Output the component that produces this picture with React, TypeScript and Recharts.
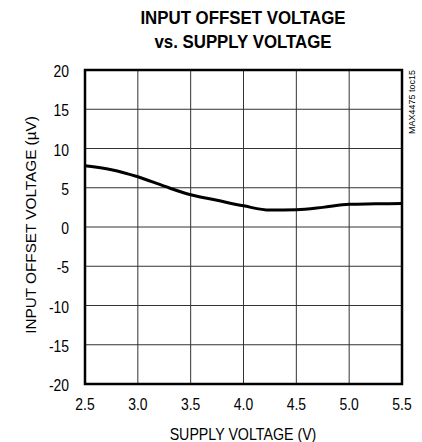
import { CartesianGrid, Line, LineChart, ReferenceArea, XAxis, YAxis } from "recharts";

const supplyVoltage = [2.5, 2.75, 3.0, 3.25, 3.5, 3.75, 4.0, 4.25, 4.5, 4.75, 5.0, 5.25, 5.5];
const offsetVoltage = [7.8, 7.3, 6.4, 5.2, 4.1, 3.4, 2.7, 2.15, 2.2, 2.5, 2.9, 2.95, 3.0];
const xTicks = [2.5, 3.0, 3.5, 4.0, 4.5, 5.0, 5.5];
const yTicks = [-20, -15, -10, -5, 0, 5, 10, 15, 20];

const data = supplyVoltage.map((v, i) => ({ v, vos: offsetVoltage[i] }));

const FONT = '"Liberation Sans", Arial, sans-serif';

const XTick = (props: any) => {
  const { x, y, payload } = props;
  return (
    <g transform={`translate(${x},${y})`}>
      <text transform="scale(0.87,1)" textAnchor="middle" dy="0.71em" style={{ fill: "#000", fontSize: 16, fontFamily: FONT }}>
        {Number(payload.value).toFixed(1)}
      </text>
    </g>
  );
};

const YTick = (props: any) => {
  const { x, y, payload } = props;
  return (
    <g transform={`translate(${x},${y + 1.5})`}>
      <text transform="scale(0.87,1)" textAnchor="end" dy="0.355em" style={{ fill: "#000", fontSize: 16, fontFamily: FONT }}>
        {payload.value}
      </text>
    </g>
  );
};

export default function App() {
  return (
    <div style={{ position: "absolute", left: 0, top: 0, width: 422, height: 442, background: "#fff", fontFamily: FONT }}>
      <div
        style={{
          position: "absolute",
          left: 43,
          width: 400,
          top: 6,
          textAlign: "center",
          fontWeight: "bold",
          fontSize: 18.5,
          lineHeight: "24px",
          color: "#000",
          transform: "scaleX(0.91)",
        }}
      >
        INPUT OFFSET VOLTAGE
        <br />
        vs. SUPPLY VOLTAGE
      </div>
      <div
        style={{
          position: "absolute",
          left: 412,
          top: 102,
          fontSize: 9,
          whiteSpace: "nowrap",
          transform: "translate(-50%, -50%) rotate(-90deg)",
          color: "#000",
        }}
      >
        MAX4475 toc15
      </div>
      <LineChart width={422} height={442} data={data} margin={{ top: 70, right: 20, left: 0, bottom: 0 }}>
        <CartesianGrid stroke="#333" strokeWidth={1} />
        <XAxis
          dataKey="v"
          type="number"
          domain={[2.5, 5.5]}
          ticks={xTicks}
          axisLine={false}
          tickLine={false}
          tickSize={0}
          tickMargin={15}
          height={58}
          tick={XTick}
          label={{
            content: () => (
              <text
                x={243}
                y={440}
                transform="translate(243 440) scale(0.89 1) translate(-243 -440)"
                textAnchor="middle"
                style={{ fill: "#000", fontSize: 16, fontFamily: FONT }}
              >
                SUPPLY VOLTAGE (V)
              </text>
            ),
          }}
        />
        <YAxis
          type="number"
          domain={[-20, 20]}
          ticks={yTicks}
          axisLine={false}
          tickLine={false}
          tickSize={0}
          tickMargin={16}
          width={85}
          tick={YTick}
          label={{
            content: () => (
              <text
                x={30}
                y={225}
                transform="rotate(-90 30 225)"
                textAnchor="middle"
                dominantBaseline="central"
                style={{ fill: "#000", fontSize: 15.3, fontFamily: FONT }}
              >
                INPUT OFFSET VOLTAGE (µV)
              </text>
            ),
          }}
        />
        <ReferenceArea x1={2.5} x2={5.5} y1={-20} y2={20} fill="none" stroke="#000" strokeWidth={2.5} ifOverflow="visible" />
        <Line type="monotone" dataKey="vos" stroke="#000" strokeWidth={3} dot={false} isAnimationActive={false} />
      </LineChart>
    </div>
  );
}
